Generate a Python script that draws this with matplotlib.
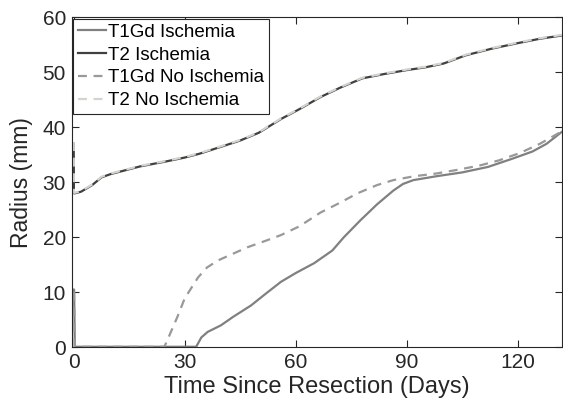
import numpy as np
import matplotlib.pyplot as plt

plt.rcParams['font.family'] = ['Liberation Sans', 'DejaVu Sans']

# T2 (both ischemia / no ischemia runs overlap almost exactly)
t2_days = [0, 0.05, 0.3, 2, 5, 7.5, 10, 14, 18, 25, 30, 34, 40, 45, 50, 56, 61,
           66.7, 72, 78, 84, 90, 95, 100, 106, 113, 120, 126, 132]
t2_isch = [37.0, 28.0, 28.0, 28.3, 29.5, 30.9, 31.5, 32.2, 32.9, 33.8, 34.5, 35.2,
           36.5, 37.6, 39.0, 41.5, 43.3, 45.5, 47.2, 48.9, 49.7, 50.4, 50.9, 51.6,
           53.1, 54.3, 55.3, 56.1, 56.7]
t2_noisch = [37.3, 28.1, 28.1, 28.4, 29.6, 31.0, 31.6, 32.3, 33.0, 33.9, 34.6, 35.3,
             36.6, 37.7, 39.1, 41.6, 43.4, 45.6, 47.3, 49.0, 49.8, 50.5, 51.0, 51.7,
             53.2, 54.4, 55.4, 56.2, 56.8]

# T1Gd with ischemia
t1_isch_days = [0, 0.1, 0.3, 10, 20, 33.1, 34.5, 36.2, 39.8, 43, 47.9, 52, 56, 60,
                65, 69.9, 73, 77.5, 82, 86.4, 89, 91.8, 98, 105, 112, 118.6, 124,
                127.8, 132]
t1_isch = [10.5, 10.5, 0.1, 0.1, 0.1, 0.1, 1.8, 2.8, 4.0, 5.5, 7.6, 9.8, 11.9, 13.5,
           15.3, 17.6, 20.0, 23.1, 26.0, 28.5, 29.7, 30.4, 31.1, 31.8, 32.8, 34.3,
           35.6, 37.0, 39.2]

# T1Gd without ischemia
t1_noisch_days = [0, 0.1, 0.3, 10, 20, 24.5, 25.5, 28, 30, 33.6, 36, 39, 43, 47,
                  52, 56, 61, 66.7, 72, 76.7, 82, 86.4, 92, 98, 104, 110, 115,
                  120.5, 126, 132]
t1_noisch = [10.0, 10.0, 0.1, 0.1, 0.1, 0.1, 1.6, 5.5, 8.9, 12.7, 14.5, 15.8, 17.0,
             18.2, 19.4, 20.4, 22.0, 24.5, 26.3, 28.0, 29.5, 30.4, 31.1, 31.6, 32.3,
             33.1, 34.0, 35.3, 37.0, 39.3]

fig = plt.figure(figsize=(5.63, 4.12), dpi=100)
ax = fig.add_axes([0.127, 0.157, 0.872, 0.801])

ax.plot(t1_isch_days, t1_isch, '-', color='#808080', lw=1.6, label='T1Gd Ischemia')
ax.plot(t2_days, t2_isch, '-', color='#404040', lw=1.6, label='T2 Ischemia')
ax.plot(t1_noisch_days, t1_noisch, '--', color='#999999', lw=1.6,
        dashes=(4, 3), label='T1Gd No Ischemia')
ax.plot(t2_days, t2_noisch, '--', color='#d6d3ce', lw=1.6,
        dashes=(4, 3), label='T2 No Ischemia')

ax.set_xlim(-0.6, 132.1)
ax.set_ylim(0, 60)
ax.set_xticks([0, 30, 60, 90, 120])
ax.set_yticks([0, 10, 20, 30, 40, 50, 60])
ax.tick_params(direction='in', top=True, right=True, labelsize=15,
               colors='#262626', length=5, pad=4)
for s in ax.spines.values():
    s.set_color('#262626')
    s.set_linewidth(0.8)

ax.set_xlabel('Time Since Resection (Days)', fontsize=17, color='#262626', labelpad=3)
ax.set_ylabel('Radius (mm)', fontsize=16.5, color='#262626', labelpad=7)

leg = ax.legend(loc='upper left', fontsize=13.5, handlelength=1.5, handletextpad=0.1,
                borderaxespad=0.1, labelspacing=0.3, borderpad=0.25, fancybox=False,
                framealpha=1)
leg.get_frame().set_edgecolor('#262626')
leg.get_frame().set_linewidth(0.8)

fig.savefig('out.png', dpi=100)
